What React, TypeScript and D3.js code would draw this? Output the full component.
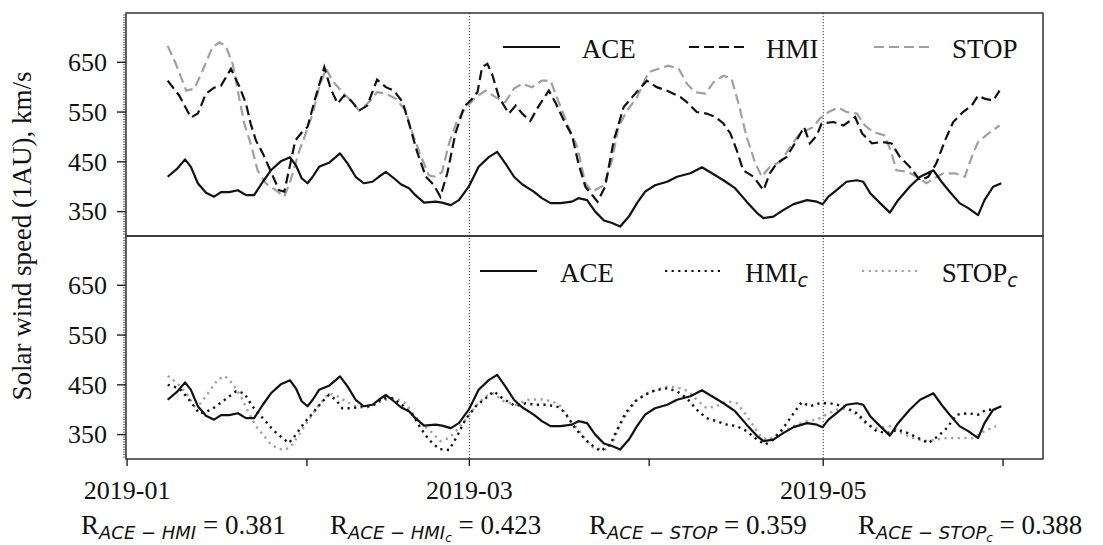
import React from 'react';
import * as d3 from 'd3';

// Days are counted from 2019-01-01 (UTC); speeds are in km/s.
const ORIGIN = Date.UTC(2019, 0, 1);
const toDate = (day: number) => new Date(ORIGIN + day * 864e5);

const ace: [number, number][] = [
  [7.0, 420], [8.7, 437], [10.0, 455], [11.0, 440], [12.2, 407], [13.6, 388], [15.0, 380], [16.2, 389],
  [17.6, 389], [19.1, 393], [20.5, 383], [21.9, 383], [23.4, 410], [24.8, 433], [26.5, 451], [28.1, 459],
  [29.1, 443], [30.1, 417], [31.1, 407], [32.0, 420], [33.1, 440], [34.8, 448], [36.7, 467], [38.0, 447],
  [39.4, 420], [40.8, 407], [42.3, 410], [43.4, 420], [44.6, 430], [46.0, 417], [47.2, 405], [48.6, 397],
  [49.7, 383], [51.2, 368], [53.2, 370], [54.3, 368], [55.8, 363], [57.2, 373], [58.9, 400], [60.6, 440],
  [62.4, 460], [63.8, 470], [65.2, 447], [66.7, 420], [68.1, 405], [70.1, 390], [71.5, 377], [73.0, 367],
  [74.7, 367], [76.7, 370], [77.8, 377], [79.3, 373], [80.7, 350], [82.2, 332], [83.6, 327], [85.0, 320],
  [86.5, 340], [87.9, 367], [89.3, 390], [91.0, 403], [93.1, 410], [94.8, 420], [97.1, 427], [99.1, 439],
  [101.1, 425], [102.8, 413], [104.8, 397], [106.8, 370], [108.6, 347], [109.7, 337], [111.4, 340],
  [113.1, 353], [114.9, 365], [117.2, 373], [118.9, 370], [119.9, 365], [120.9, 380], [122.3, 393],
  [124.0, 410], [125.8, 413], [126.9, 410], [128.1, 387], [129.8, 367], [131.5, 348], [132.9, 373],
  [134.9, 400], [136.7, 420], [139.0, 433], [140.4, 410], [141.8, 390], [143.5, 367], [145.0, 357],
  [146.7, 343], [147.8, 373], [149.3, 400], [150.7, 407],
];

const hmi: [number, number][] = [
  [7.0, 613], [9.0, 583], [11.0, 539], [12.2, 547], [13.6, 587], [15.0, 599], [16.2, 603], [17.9, 637],
  [19.3, 603], [20.5, 567], [21.3, 527], [22.2, 493], [23.4, 467], [24.8, 430], [26.2, 393], [27.1, 390],
  [27.9, 433], [29.0, 493], [30.2, 510], [31.1, 520], [32.5, 580], [34.0, 640], [35.1, 597], [36.3, 567],
  [37.4, 583], [38.6, 573], [40.0, 553], [41.4, 563], [43.1, 615], [44.6, 600], [46.0, 593], [47.5, 570],
  [48.6, 527], [50.0, 470], [51.5, 420], [52.9, 403], [54.0, 380], [55.2, 427], [56.6, 507], [58.1, 561],
  [59.2, 573], [60.4, 590], [61.2, 640], [62.1, 647], [62.9, 627], [64.1, 580], [65.8, 547], [67.0, 563],
  [68.1, 547], [69.5, 532], [71.0, 563], [72.7, 593], [73.8, 570], [75.3, 533], [76.7, 503], [77.8, 447],
  [79.0, 400], [81.1, 370], [82.4, 400], [83.9, 493], [85.6, 560], [87.3, 583], [89.6, 613], [91.3, 600],
  [93.1, 593], [95.4, 580], [96.5, 570], [98.2, 550], [99.9, 547], [101.4, 540], [102.8, 527], [104.0, 507],
  [105.1, 473], [106.2, 433], [108.0, 420], [109.7, 393], [110.8, 427], [112.0, 447], [113.7, 460],
  [115.4, 493], [116.7, 520], [117.7, 487], [118.9, 503], [119.7, 527], [121.8, 530], [123.5, 523],
  [125.5, 540], [126.7, 507], [128.4, 487], [130.1, 490], [131.8, 487], [133.2, 460], [134.9, 440],
  [136.7, 413], [138.1, 420], [139.5, 447], [141.0, 493], [142.4, 530], [144.1, 550], [145.6, 563],
  [146.7, 583], [147.8, 577], [149.3, 573], [150.4, 593],
];

const stop: [number, number][] = [
  [7.0, 683], [8.4, 647], [10.2, 593], [11.6, 597], [13.0, 633], [14.7, 680], [15.9, 690], [17.0, 683],
  [18.2, 647], [19.3, 580], [20.2, 527], [21.3, 487], [22.5, 433], [23.9, 407], [25.6, 393], [27.1, 380],
  [28.2, 413], [29.7, 473], [30.8, 507], [32.0, 547], [33.1, 600], [34.3, 637], [35.4, 613], [37.1, 590],
  [38.6, 573], [40.0, 553], [41.7, 570], [43.1, 590], [44.6, 587], [46.3, 577], [48.0, 553], [49.2, 507],
  [50.6, 463], [52.0, 423], [53.2, 420], [54.3, 430], [55.5, 487], [56.9, 533], [58.3, 557], [60.1, 580],
  [61.8, 593], [63.5, 580], [65.2, 570], [66.7, 597], [68.1, 607], [69.8, 600], [71.5, 613], [73.0, 613],
  [74.4, 570], [76.1, 520], [77.6, 480], [79.0, 407], [80.2, 390], [82.2, 403], [83.6, 453], [84.7, 520],
  [86.2, 553], [87.9, 580], [89.9, 630], [91.6, 637], [93.3, 643], [95.1, 637], [96.5, 607], [97.9, 590],
  [99.7, 587], [101.1, 610], [102.8, 623], [104.2, 617], [105.4, 567], [106.8, 500], [108.3, 447],
  [109.4, 420], [110.8, 440], [112.6, 450], [114.3, 480], [116.0, 507], [118.3, 520], [119.4, 537],
  [120.9, 550], [122.6, 559], [124.0, 550], [125.8, 547], [127.2, 523], [128.6, 510], [130.6, 503],
  [131.8, 467], [132.6, 433], [134.6, 430], [136.1, 420], [137.8, 407], [139.2, 417], [140.7, 427],
  [142.7, 427], [144.4, 420], [145.6, 460], [146.7, 490], [148.5, 507], [150.4, 523],
];

const hmiC: [number, number][] = [
  [7.0, 450], [9.0, 443], [10.7, 420], [12.5, 392], [14.5, 400], [16.5, 417], [18.8, 437], [20.2, 433],
  [21.6, 407], [23.4, 383], [25.1, 360], [26.8, 343], [27.9, 333], [29.1, 350], [30.5, 373], [32.0, 393],
  [33.4, 413], [34.8, 430], [36.0, 420], [37.1, 403], [38.8, 403], [40.6, 407], [42.3, 407], [44.0, 423],
  [45.7, 423], [47.4, 410], [49.2, 390], [50.6, 363], [52.0, 340], [53.8, 321], [55.5, 319], [56.9, 347],
  [58.3, 380], [60.1, 407], [61.8, 423], [63.2, 437], [64.7, 423], [67.0, 407], [68.7, 413], [70.4, 410],
  [72.4, 410], [74.5, 405], [75.6, 392], [77.3, 362], [79.0, 340], [80.0, 330], [81.6, 317], [83.3, 330],
  [84.5, 360], [85.9, 393], [87.6, 417], [89.3, 430], [91.0, 439], [93.1, 443], [94.8, 437], [96.5, 423],
  [98.2, 400], [99.9, 383], [101.6, 377], [103.4, 370], [105.1, 367], [106.8, 357], [108.6, 340],
  [110.0, 330], [111.4, 340], [113.1, 363], [114.9, 393], [116.3, 415], [117.7, 407], [119.4, 413],
  [121.2, 413], [123.5, 407], [125.8, 393], [127.5, 373], [129.2, 357], [131.0, 353], [132.9, 360],
  [134.6, 353], [136.4, 343], [138.1, 333], [139.8, 347], [141.3, 363], [143.0, 390], [145.0, 393],
  [146.7, 390], [148.1, 400], [149.8, 400],
];

const stopC: [number, number][] = [
  [7.0, 468], [8.7, 453], [10.2, 433], [11.6, 407], [12.7, 413], [14.2, 437], [15.6, 460], [16.8, 468],
  [18.2, 453], [19.6, 427], [21.0, 393], [22.2, 367], [23.4, 350], [24.8, 330], [26.2, 321], [27.4, 320],
  [28.5, 330], [30.2, 360], [31.7, 387], [33.1, 410], [34.8, 433], [36.3, 427], [37.7, 417], [39.4, 407],
  [41.1, 403], [42.9, 413], [44.6, 420], [46.3, 423], [48.0, 413], [49.4, 390], [50.9, 370], [52.3, 357],
  [54.0, 337], [55.5, 343], [56.9, 360], [58.6, 383], [60.1, 407], [61.8, 427], [63.2, 433], [64.9, 417],
  [67.0, 410], [69.3, 420], [71.3, 421], [73.3, 417], [74.7, 407], [76.4, 377], [77.8, 360], [79.0, 340],
  [80.4, 323], [82.4, 320], [83.6, 330], [84.7, 363], [86.2, 393], [87.9, 420], [89.6, 433], [91.6, 441],
  [93.3, 447], [95.4, 443], [96.8, 437], [98.2, 420], [99.9, 403], [101.6, 407], [103.4, 417], [105.1, 413],
  [106.5, 393], [108.0, 367], [109.4, 343], [110.6, 340], [112.0, 350], [113.7, 360], [115.4, 370],
  [117.2, 377], [118.9, 380], [120.5, 390], [122.3, 400], [124.0, 403], [125.8, 390], [127.5, 370],
  [129.2, 363], [131.5, 367], [133.5, 353], [135.5, 343], [137.5, 337], [139.5, 340], [141.3, 343],
  [143.5, 343], [145.8, 343], [147.8, 357], [149.8, 367],
];

const monthTicks = ['2019-01', '2019-02', '2019-03', '2019-04', '2019-05', '2019-06'];
const labelledMonths = ['2019-01', '2019-03', '2019-05'];
const markerMonths = ['2019-03', '2019-05'];
const speedTicks = [350, 450, 550, 650];
const speedRange: [number, number] = [301, 749];

const correlations = [
  { target: 'HMI', corrected: false, r: '0.381' },
  { target: 'HMI', corrected: true, r: '0.423' },
  { target: 'STOP', corrected: false, r: '0.359' },
  { target: 'STOP', corrected: true, r: '0.388' },
];

const W = 1103;
const H = 545;
const M = { left: 126, right: 1043, top: 13, mid: 236, bottom: 459 };

const SERIF = '"Liberation Serif", "Times New Roman", serif';
const SANS = '"DejaVu Sans", sans-serif';
const BLACK = '#111111';
const GREY = '#a0a0a0';
const DASH = '10,5';
const DOT = '2.2,4.4';

const monthDate = (m: string) => {
  const [y, mo] = m.split('-').map(Number);
  return new Date(Date.UTC(y, mo - 1, 1));
};

export default function App() {
  // matplotlib-style 5% padding around the sampled days
  const allDays = [ace, hmi, stop, hmiC, stopC].flat().map((d) => d[0]);
  const [d0, d1] = d3.extent(allDays) as [number, number];
  const pad = (d1 - d0) * 0.05;
  const x = d3.scaleUtc().domain([toDate(d0 - pad), toDate(d1 + pad)]).range([M.left, M.right]);

  const yTop = d3.scaleLinear().domain(speedRange).range([M.mid, M.top]);
  const yBot = d3.scaleLinear().domain(speedRange).range([M.bottom, M.mid]);

  const lineFor = (y: d3.ScaleLinear<number, number>) =>
    d3
      .line<[number, number]>()
      .x((d) => x(toDate(d[0])))
      .y((d) => y(d[1]));
  const topLine = lineFor(yTop);
  const botLine = lineFor(yBot);

  const minor = d3.range(305, 749, 5);

  const yAxis = (y: d3.ScaleLinear<number, number>, key: string) => (
    <g key={key}>
      {minor.map((v) => (
        <line key={v} x1={M.left - 3} x2={M.left} y1={y(v)} y2={y(v)} stroke="#444" strokeWidth={0.8} />
      ))}
      {speedTicks.map((v) => (
        <g key={v}>
          <line x1={M.left - 9} x2={M.left} y1={y(v)} y2={y(v)} stroke="#222" strokeWidth={1.4} />
          <text x={107} y={y(v)} dy="0.34em" textAnchor="end" fontFamily={SERIF} fontSize={26} fill={BLACK}>
            {v}
          </text>
        </g>
      ))}
    </g>
  );

  const legendItem = (
    lx: number,
    ly: number,
    tx: number,
    color: string,
    dash: string | undefined,
    name: string,
    sub?: string
  ) => (
    <g key={name + (sub || '') + ly}>
      <line x1={lx} x2={lx + 57} y1={ly} y2={ly} stroke={color} strokeWidth={2.2} strokeDasharray={dash} />
      <text x={tx} y={ly + 10.5} fontFamily={SERIF} fontSize={27} fill={BLACK}>
        {name}
        {sub && (
          <tspan fontFamily={SANS} fontStyle="italic" fontSize={19} dy={5}>
            {sub}
          </tspan>
        )}
      </text>
    </g>
  );

  const rStarts = [81, 330, 589, 858];

  return (
    <svg width={W} height={H} style={{ position: 'absolute', left: 0, top: 0, background: '#fff' }}>
      <rect x={0} y={0} width={W} height={H} fill="#fff" />

      {/* month markers */}
      {markerMonths.map((m) => (
        <line
          key={m}
          x1={x(monthDate(m))}
          x2={x(monthDate(m))}
          y1={M.top}
          y2={M.bottom}
          stroke="#333"
          strokeWidth={1}
          strokeDasharray="1.2,1.8"
        />
      ))}

      {/* upper panel: raw model speeds */}
      <path d={topLine(stop) || ''} fill="none" stroke={GREY} strokeWidth={2.2} strokeDasharray={DASH} />
      <path d={topLine(hmi) || ''} fill="none" stroke={BLACK} strokeWidth={2.2} strokeDasharray={DASH} />
      <path d={topLine(ace) || ''} fill="none" stroke={BLACK} strokeWidth={2.2} strokeLinejoin="round" />

      {/* lower panel: corrected model speeds */}
      <path d={botLine(stopC) || ''} fill="none" stroke={GREY} strokeWidth={2.4} strokeDasharray={DOT} />
      <path d={botLine(hmiC) || ''} fill="none" stroke={BLACK} strokeWidth={2.4} strokeDasharray={DOT} />
      <path d={botLine(ace) || ''} fill="none" stroke={BLACK} strokeWidth={2.2} strokeLinejoin="round" />

      {/* frames */}
      <rect x={M.left} y={M.top} width={M.right - M.left} height={M.mid - M.top} fill="none" stroke="#333" strokeWidth={1.5} />
      <rect x={M.left} y={M.mid} width={M.right - M.left} height={M.bottom - M.mid} fill="none" stroke="#333" strokeWidth={1.5} />

      {yAxis(yTop, 'top')}
      {yAxis(yBot, 'bot')}

      {/* time axis */}
      {monthTicks.map((m) => {
        const px = x(monthDate(m));
        return (
          <g key={m}>
            <line x1={px} x2={px} y1={M.bottom} y2={M.bottom + 7} stroke="#222" strokeWidth={1.4} />
            {labelledMonths.includes(m) && (
              <text x={px} y={499} textAnchor="middle" fontFamily={SERIF} fontSize={26} fill={BLACK}>
                {m}
              </text>
            )}
          </g>
        );
      })}

      <text
        transform={`translate(31, ${(M.top + M.bottom) / 2}) rotate(-90)`}
        textAnchor="middle"
        fontFamily={SERIF}
        fontSize={27}
        fill={BLACK}
      >
        Solar wind speed (1AU), km/s
      </text>

      {/* legends */}
      {legendItem(503, 47, 581.7, BLACK, undefined, 'ACE')}
      {legendItem(689, 47, 766, BLACK, DASH, 'HMI')}
      {legendItem(874, 47, 952, GREY, DASH, 'STOP')}
      {legendItem(480, 271, 560, BLACK, undefined, 'ACE')}
      {legendItem(665, 271, 745, BLACK, DOT, 'HMI', 'c')}
      {legendItem(862, 271, 941.7, GREY, DOT, 'STOP', 'c')}

      {/* correlation coefficients */}
      {correlations.map((c, i) => (
        <text key={i} x={rStarts[i]} y={534} fontFamily={SERIF} fontSize={27} fill={BLACK}>
          R
          <tspan fontFamily={SANS} fontStyle="italic" fontSize={18} dy={5}>
            {`ACE − ${c.target}`}
          </tspan>
          {c.corrected && (
            <tspan fontFamily={SANS} fontStyle="italic" fontSize={12} dy={2.5}>
              c
            </tspan>
          )}
          <tspan dy={c.corrected ? -7.5 : -5}>{` = ${c.r}`}</tspan>
        </text>
      ))}
    </svg>
  );
}
